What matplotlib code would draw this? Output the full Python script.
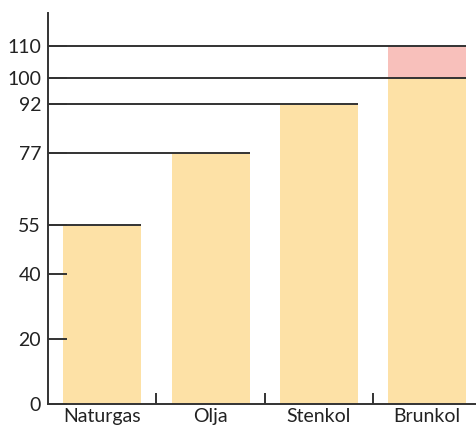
import matplotlib
matplotlib.use("Agg")
import matplotlib.pyplot as plt

categories = ["Naturgas", "Olja", "Stenkol", "Brunkol"]
base_values = [55, 77, 92, 100]
extra_values = [0, 0, 0, 10]
ytick_values = [0, 20, 40, 55, 77, 92, 100, 110]

plt.rcParams['font.family'] = ['Lato', 'DejaVu Sans']

fig = plt.figure(figsize=(4.76, 4.32), dpi=100)
ax = fig.add_axes([48/476, 28/432, 428/476, 391/432])

x = list(range(len(categories)))
width = 0.72
yellow = "#FDE1A6"
pink = "#F8C0BB"
line_c = "#333333"

ax.bar(x, base_values, width=width, color=yellow, zorder=1)
ax.bar(x, extra_values, width=width, bottom=base_values, color=pink, zorder=1)

for xi, b, e in zip(x, base_values, extra_values):
    tops = [b] + ([b + e] if e else [])
    for t in tops:
        ax.hlines(t, -0.5, xi + width/2, color=line_c, lw=1.4, zorder=3)

ax.set_xlim(-0.5, 3.45)
ax.set_ylim(0, 120)

for s in ["top", "right"]:
    ax.spines[s].set_visible(False)
for s in ["left", "bottom"]:
    ax.spines[s].set_color(line_c)
    ax.spines[s].set_linewidth(1.4)

ax.set_yticks(ytick_values)
ax.set_yticklabels([str(v) for v in ytick_values])
ax.tick_params(axis='y', direction='in', length=14, width=1.4, color=line_c,
               labelsize=14, labelcolor="#222222", pad=5)

ax.set_xticks(x)
ax.set_xticklabels(categories)
ax.tick_params(axis='x', which='major', length=0, labelsize=14, labelcolor="#222222", pad=3)
ax.set_xticks([0.5, 1.5, 2.5], minor=True)
ax.tick_params(axis='x', which='minor', direction='in', length=8, width=1.4, color=line_c)

fig.savefig("out.png", dpi=100)
